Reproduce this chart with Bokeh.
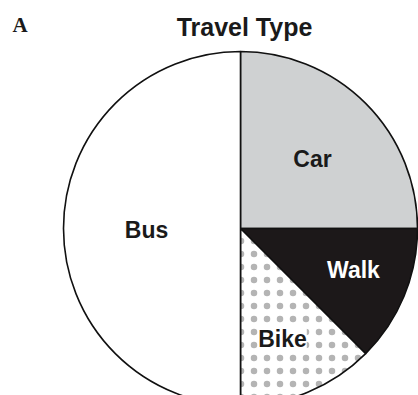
import math
from bokeh.plotting import figure
from bokeh.models import ColumnDataSource, Label, Range1d
from bokeh.embed import file_html
from bokeh.resources import INLINE

# Data
categories = ["Car", "Walk", "Bike", "Bus"]
shares = [25.0, 12.5, 12.5, 50.0]
colors = ["#cfd1d2", "#1c1819", "#ffffff", "#ffffff"]
hatches = [" ", " ", "dot", " "]
title_text = "Travel Type"
panel_letter = "A"

W, H = 418, 395
p = figure(width=W, height=H, output_backend="svg", toolbar_location=None,
           x_range=Range1d(0, W), y_range=Range1d(0, H), min_border=0)
p.axis.visible = False
p.grid.visible = False
p.outline_line_color = None
p.background_fill_color = "white"
p.border_fill_color = "white"

def px(x):
    return x

def py(y):
    return H - y

cx, cy, R = px(240), py(228), 177

# angles: start at 12 o'clock, go clockwise
total = sum(shares)
ends, starts = [], []
a = math.pi / 2
for s in shares:
    b = a - s / total * 2 * math.pi
    starts.append(b)
    ends.append(a)
    a = b

src = ColumnDataSource(dict(cat=categories, start=starts, end=ends,
                            color=colors, hatch=hatches))
p.wedge(x=cx, y=cy, radius=R, start_angle="start", end_angle="end",
        fill_color="color", line_color="#111111", line_width=1.6,
        hatch_pattern="hatch", hatch_color="#b4b4b4", hatch_scale=13,
        hatch_weight=0.5, source=src)

# slice labels (page positions)
label_pos = {"Car": (312, 158), "Walk": (353, 269), "Bike": (282, 338), "Bus": (146, 229)}
label_col = {"Car": "#1a1a1a", "Walk": "white", "Bike": "#1a1a1a", "Bus": "#1a1a1a"}
for c in categories:
    x, y = label_pos[c]
    kw = {}
    if c == "Bike":
        kw = dict(background_fill_color="white", background_fill_alpha=1.0)
    p.add_layout(Label(x=px(x), y=py(y), text=c, text_font="Liberation Sans",
                       text_font_style="bold", text_font_size="23px",
                       text_color=label_col[c], text_align="center",
                       text_baseline="middle", **kw))

p.add_layout(Label(x=px(244), y=py(26), text=title_text, text_font="Liberation Sans",
                   text_font_style="bold", text_font_size="25px", text_color="#1a1a1a",
                   text_align="center", text_baseline="middle"))
p.add_layout(Label(x=px(12), y=py(24), text=panel_letter, text_font="Liberation Serif",
                   text_font_style="bold", text_font_size="21px", text_color="#1a1a1a",
                   text_align="left", text_baseline="middle"))

open("out.html", "w").write(file_html(p, INLINE))
